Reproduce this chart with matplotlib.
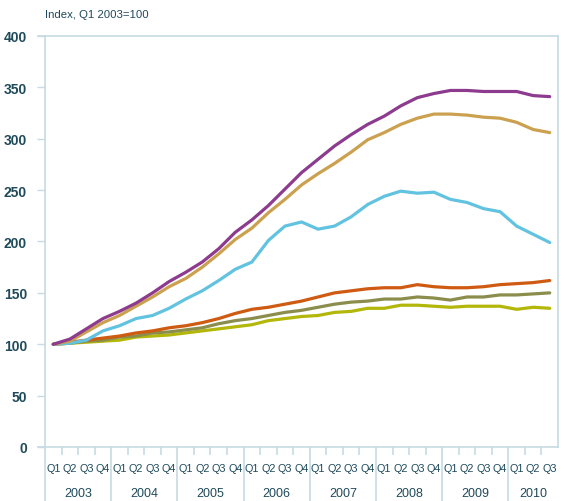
import matplotlib
matplotlib.use("Agg")
import matplotlib.pyplot as plt
from matplotlib.lines import Line2D
import matplotlib.transforms as mtransforms

plt.rcParams['font.family'] = ['Liberation Sans', 'DejaVu Sans']

years = ["2003", "2004", "2005", "2006", "2007", "2008", "2009", "2010"]
quarters_per_year = [4, 4, 4, 4, 4, 4, 4, 3]
quarter_labels = ["Q1", "Q2", "Q3", "Q4"]

purple = [100, 105, 115, 125, 132, 140, 150, 161, 170, 180, 193, 209, 221, 235, 251, 267,
          280, 293, 304, 314, 322, 332, 340, 344, 347, 347, 346, 346, 346, 342, 341]
gold = [100, 103, 112, 121, 128, 137, 146, 156, 164, 175, 188, 202, 213, 228, 241, 255,
        266, 276, 287, 299, 306, 314, 320, 324, 324, 323, 321, 320, 316, 309, 306]
blue = [100, 101, 104, 113, 118, 125, 128, 135, 144, 152, 162, 173, 180, 201, 215, 219,
        212, 215, 224, 236, 244, 249, 247, 248, 241, 238, 232, 229, 215, 207, 199]
orange = [100, 102, 104, 106, 108, 111, 113, 116, 118, 121, 125, 130, 134, 136, 139, 142,
          146, 150, 152, 154, 155, 155, 158, 156, 155, 155, 156, 158, 159, 160, 162]
olive = [100, 101, 103, 104, 107, 108, 111, 112, 114, 116, 120, 123, 125, 128, 131, 133,
         136, 139, 141, 142, 144, 144, 146, 145, 143, 146, 146, 148, 148, 149, 150]
yellow = [100, 101, 102, 103, 104, 107, 108, 109, 111, 113, 115, 117, 119, 123, 125, 127,
          128, 131, 132, 135, 135, 138, 138, 137, 136, 137, 137, 137, 134, 136, 135]

series = [
    (yellow, "#b3b70a"),
    (olive, "#8a8d4b"),
    (orange, "#cf5a12"),
    (blue, "#62c3e0"),
    (gold, "#cba04f"),
    (purple, "#8c3b8e"),
]

text_color = "#1f4a5a"
axis_color = "#c6dbe3"

fig = plt.figure(figsize=(5.65, 5.02), dpi=100)
ax = fig.add_axes([45 / 565, 54 / 502, 513 / 565, 411 / 502])

n = len(purple)
x = list(range(n))
for vals, col in series:
    ax.plot(x, vals, color=col, lw=2.3, solid_joinstyle='round', solid_capstyle='round', zorder=3)

ax.set_xlim(-0.5, n - 0.5)
ax.set_ylim(0, 400)
ax.set_yticks(range(0, 401, 50))
ax.tick_params(axis='y', length=6, width=1, color=axis_color, labelcolor=text_color,
               labelsize=10, pad=7)
for lab in ax.get_yticklabels():
    lab.set_fontweight('bold')
ax.set_xticks([])
for s in ["left", "right", "top", "bottom"]:
    ax.spines[s].set_color(axis_color)
    ax.spines[s].set_linewidth(1.2)

ax.add_line(Line2D([-0.9, -0.5], [400, 400], color=axis_color, lw=1.2, clip_on=False))
ax.add_line(Line2D([-0.9, -0.5], [0, 0], color=axis_color, lw=1.2, clip_on=False))

trans = mtransforms.blended_transform_factory(ax.transData, ax.transAxes)
ax_h = 411.0
start = 0
for yr, nq in zip(years, quarters_per_year):
    ax.add_line(Line2D([start - 0.5, start - 0.5], [0, -54 / ax_h], transform=trans,
                       color=axis_color, lw=1.2, clip_on=False))
    for q in range(nq):
        xi = start + q
        ax.text(xi, -21 / ax_h, quarter_labels[q], transform=trans, ha='center', va='center',
                fontsize=7.8, color=text_color)
        if q > 0:
            ax.add_line(Line2D([xi - 0.5, xi - 0.5], [0, -7 / ax_h], transform=trans,
                               color=axis_color, lw=1.2, clip_on=False))
    ax.text(start + (nq - 1) / 2, -46 / ax_h, yr, transform=trans, ha='center', va='center',
            fontsize=9, color=text_color)
    start += nq

fig.text(45 / 565, 1 - 15 / 502, "Index, Q1 2003=100", ha='left', va='center',
         fontsize=8.2, color=text_color)

fig.savefig("out.png", dpi=100)
